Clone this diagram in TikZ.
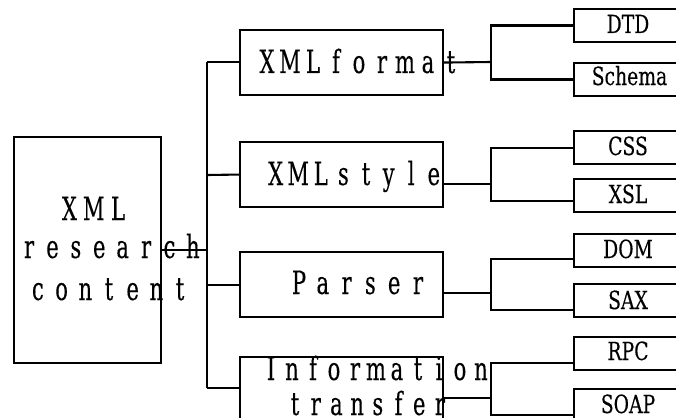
\documentclass[tikz,border=0pt]{standalone}
\usepackage{fontspec}
\setmainfont{DejaVu Serif}
\newfontfamily\widefont[FakeStretch=0.66,FakeBold=0.25]{DejaVu Serif}
\newfontfamily\leaffont[FakeStretch=0.75,FakeBold=0.25]{DejaVu Serif}
% fixed-pitch letter spacing: each character sits in a cell of width \sppitch
\def\sploop#1{\ifx#1\relax\else\makebox[\sppitch][c]{#1}\expandafter\sploop\fi}
\newcommand\spaced[2]{\def\sppitch{#1pt}\sploop#2\relax}
\begin{document}
\begin{tikzpicture}[x=1pt,y=-1pt,line width=2.1pt,
  box/.style={draw,line width=2.1pt,anchor=north west,inner sep=0pt},
  mainbox/.style={box,minimum width=147pt,minimum height=226pt},
  midbox/.style={box,minimum width=203pt,minimum height=65pt},
  leafbox/.style={box,minimum width=140pt,minimum height=33pt},
  biglbl/.style={anchor=base,inner sep=0pt,font=\widefont\fontsize{32}{38}\selectfont},
  leaflbl/.style={anchor=base,inner sep=0pt,font=\leaffont\fontsize{25}{30}\selectfont}]
\clip (0,0) rectangle (676,417);

% boxes
\node[mainbox] (main) at (13,136) {};
\node[midbox] (fmt) at (239,29) {};
\node[midbox] (sty) at (239,141) {};
\node[midbox] (par) at (239,251) {};
\node[midbox] (inf) at (239,356) {};
\node[leafbox] (dtd) at (573,8) {};
\node[leafbox] (sch) at (573,62) {};
\node[leafbox] (css) at (573,130) {};
\node[leafbox] (xsl) at (573,178) {};
\node[leafbox] (dom) at (573,233) {};
\node[leafbox] (sax) at (573,283) {};
\node[leafbox] (rpc) at (573,336) {};
\node[leafbox] (soap) at (573,388) {};

% labels
\node[biglbl] (tx1) at (93.75,220) {\spaced{24.3}{XML}};
\node[biglbl] (tx2) at (111,258) {\spaced{23.4}{research}};
\node[biglbl] (tx3) at (109,300) {\spaced{23.7}{content}};
\node[biglbl] (tfmt) at (359,73) {\spaced{23}{XMLformat}};
\node[biglbl] (tsty) at (354.75,185) {\spaced{22.6}{XMLstyle}};
\node[biglbl] (tpar) at (358.5,294) {\spaced{23.8}{Parser}};
\node[biglbl] (tinf1) at (376,380) {\spaced{21}{Information}};
\node[biglbl] (tinf2) at (367.5,415) {\spaced{20.7}{transfer}};
\node[leaflbl] (tdtd) at (628,33) {DTD};
\node[leaflbl] (tsch) at (629.5,85) {Schema};
\node[leaflbl] (tcss) at (628,155) {CSS};
\node[leaflbl] (txsl) at (628,203) {XSL};
\node[leaflbl] (tdom) at (628,258) {DOM};
\node[leaflbl] (tsax) at (628,309) {SAX};
\node[leaflbl] (trpc) at (628,360) {RPC};
\node[leaflbl] (tsoap) at (628,413) {SOAP};

% main bus
\coordinate (bt) at (207,62);
\coordinate (bs) at (207,175);
\coordinate (bb) at (207,388);
\draw (main.east) -- (main.east -| bt);
\draw (bt) -- (bb);
\draw (bt) -- (fmt.west |- bt);
\draw (bs) -- (sty.west);
\draw (par.west -| bt) -- (par.west);
\draw (bb) -- (inf.west |- bb);

% second-level junctions
\coordinate (jf) at (491,62);
\coordinate (js) at (491,184);
\coordinate (jp) at (491,293);
\coordinate (ji) at (491,398);
\draw (fmt.east) -- (jf);
\draw (sty.east |- js) -- (js);
\draw (par.east |- jp) -- (jp);
\draw (inf.east |- ji) -- (ji);
\draw (dtd.west) -| (jf) |- (sch.west);
\draw (css.west) -| (js) |- ([yshift=-5.5pt]xsl.west);
\draw ([yshift=-8pt]dom.west) -| (jp) |- ([yshift=-9.5pt]sax.west);
\draw ([yshift=-9pt]rpc.west) -| (ji) |- ([yshift=-9.5pt]soap.west);
\end{tikzpicture}
\end{document}
